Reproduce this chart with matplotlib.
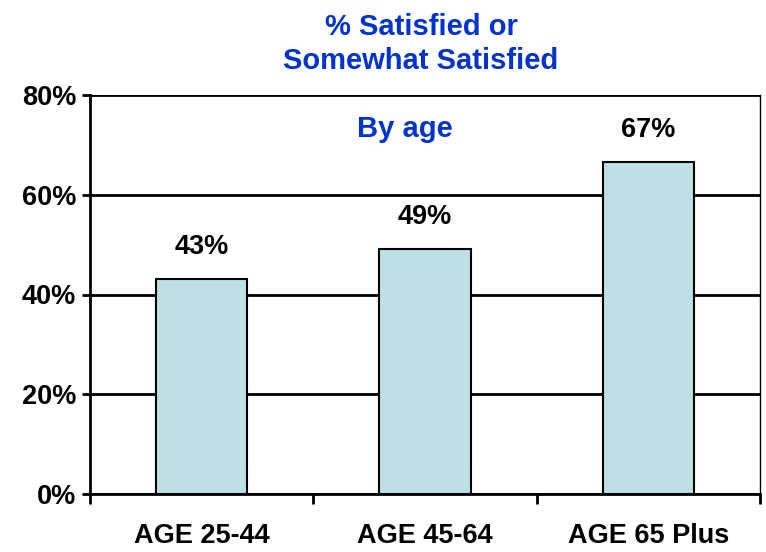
import matplotlib
matplotlib.use('Agg')
import matplotlib.pyplot as plt
from matplotlib import font_manager

categories = ['AGE 25-44', 'AGE 45-64', 'AGE 65 Plus']
values = [43.2, 49.2, 66.5]
value_labels = ['43%', '49%', '67%']
yticks = [0, 20, 40, 60, 80]

names = {f.name for f in font_manager.fontManager.ttflist}
narrow = 'Liberation Sans Narrow' if 'Liberation Sans Narrow' in names else 'Liberation Sans'

blue = '#0033CC'
barcol = '#BCE0E3'
fs = 19.5

fig = plt.figure(figsize=(7.66, 5.52), dpi=100)
ax = fig.add_axes([90/766, 1 - 494/552, 670/766, 399/552])

x = range(len(categories))
ax.bar(x, values, width=0.41, color=barcol, edgecolor='black', linewidth=1.5, zorder=3)

for xi, v, lab in zip(x, values, value_labels):
    ax.text(xi, v + 3.8, lab, ha='center', va='bottom', fontsize=fs,
            fontweight='bold', family=narrow)

ax.set_xlim(-0.5, 2.5)
ax.set_ylim(0, 80)
ax.set_yticks(yticks)
ax.set_yticklabels([f'{t}%' for t in yticks], fontsize=fs, fontweight='bold', family=narrow)
ax.yaxis.grid(True, color='black', linewidth=2, zorder=0)
ax.set_axisbelow(True)

ax.set_xticks(list(x))
ax.set_xticklabels(categories, fontsize=fs, fontweight='bold', family=narrow)
ax.tick_params(axis='x', which='major', length=0, pad=21)
ax.set_xticks([-0.5, 0.5, 1.5, 2.5], minor=True)
ax.tick_params(axis='x', which='minor', length=7, width=2, direction='out')
ax.tick_params(axis='y', length=6, width=2, direction='out', pad=4)

for s in ['left', 'bottom']:
    ax.spines[s].set_linewidth(2)
ax.spines['top'].set_visible(False)
ax.spines['right'].set_linewidth(1)

ax.text(0.91, 73.2, 'By age', ha='center', va='center', color=blue,
        fontsize=21, fontweight='bold', family='Liberation Sans')

fig.text(421/766, 1 - 44/552, '% Satisfied or\nSomewhat Satisfied', ha='center', va='center',
         color=blue, fontsize=21, fontweight='bold', family='Liberation Sans', linespacing=1.28)

fig.savefig('out.png', dpi=100)
